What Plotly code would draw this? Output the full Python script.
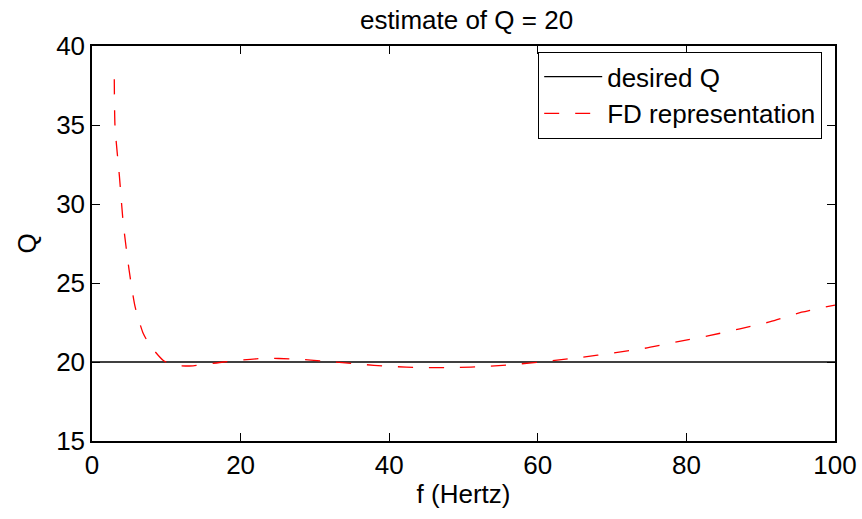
import plotly.graph_objects as go

# data
f_desired = [0, 100]
q_desired = [20, 20]

f_fd = [3.0, 3.1, 3.7, 4.2, 5.0, 5.8, 6.9, 7.9, 9.6, 11.2, 13.6, 17.7, 23.0, 27.3,
        31.6, 35.8, 40.1, 44.5, 48.9, 53.1, 57.4, 61.6, 65.9, 70.2, 74.4, 78.7,
        82.9, 87.2, 91.3, 95.5, 100.0]
q_fd = [37.9, 34.9, 31.7, 28.8, 25.8, 23.5, 21.8, 21.0, 20.1, 19.78, 19.76, 20.0,
        20.23, 20.19, 20.04, 19.87, 19.72, 19.65, 19.65, 19.72, 19.87, 20.06, 20.3,
        20.57, 20.87, 21.27, 21.65, 22.1, 22.55, 23.15, 23.6]

x_ticks = [0, 20, 40, 60, 80, 100]
y_ticks = [15, 20, 25, 30, 35, 40]

FONT = "Liberation Sans, Arial, Helvetica, sans-serif"
FS = 26

fig = go.Figure()
fig.add_trace(go.Scatter(x=f_desired, y=q_desired, mode="lines", name="desired Q",
                         line=dict(color="black", width=1.3)))
fig.add_trace(go.Scatter(x=f_fd, y=q_fd, mode="lines", name="FD representation",
                         line=dict(color="red", width=1.3, dash="15px,16px",
                                   shape="spline", smoothing=0.6)))

axis_common = dict(showline=True, linecolor="black", linewidth=1.5, mirror="ticks",
                   ticks="inside", ticklen=8, tickwidth=1.2, tickcolor="black",
                   showgrid=False, zeroline=False, automargin=False,
                   tickfont=dict(family=FONT, size=FS, color="black"))

fig.update_layout(
    width=862, height=519,
    margin=dict(l=92, r=27, t=46, b=78),
    paper_bgcolor="white", plot_bgcolor="white",
    font=dict(family=FONT, size=FS, color="black"),
    title=dict(text="estimate of Q = 20", x=0.5412, xanchor="center",
               y=0.962, yanchor="middle",
               font=dict(family=FONT, size=FS, color="black")),
    xaxis=dict(range=[0, 100], tickvals=x_ticks, ticktext=[str(v) for v in x_ticks],
               title=dict(text="f (Hertz)", standoff=6,
                          font=dict(family=FONT, size=FS, color="black")),
               **axis_common),
    yaxis=dict(range=[15, 40], tickvals=y_ticks, ticktext=[str(v) for v in y_ticks],
               title=dict(text="Q", standoff=12,
                          font=dict(family=FONT, size=FS, color="black")),
               **axis_common),
    legend=dict(x=0.9825, xanchor="right", y=0.985, yanchor="top",
                bgcolor="white", bordercolor="black", borderwidth=1.2,
                font=dict(family=FONT, size=FS, color="black"),
                tracegroupgap=0, itemwidth=58),
    showlegend=True,
)

fig.write_html("out.html")
